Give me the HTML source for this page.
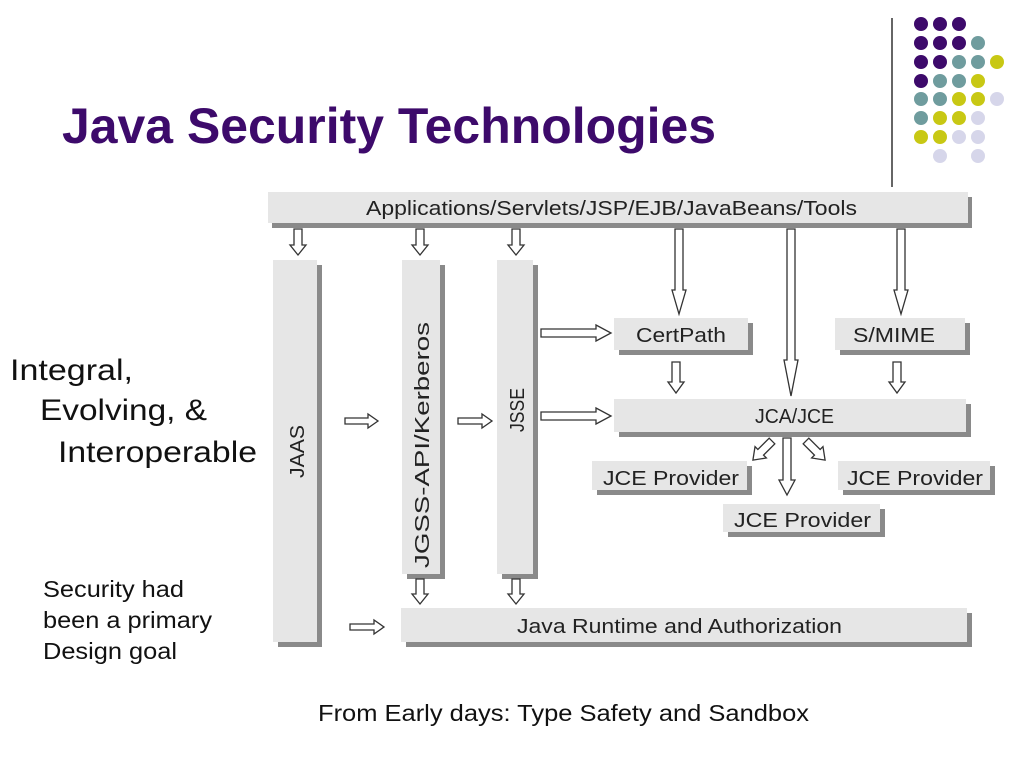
<!DOCTYPE html>
<html><head><meta charset="utf-8"><style>
html,body{margin:0;padding:0;background:#fff;}
svg{display:block}
text{font-family:"Liberation Sans",Arial,sans-serif}
</style></head><body>
<svg width="1024" height="768" viewBox="0 0 1024 768" xmlns="http://www.w3.org/2000/svg">
<g>
<line x1="892" y1="18" x2="892" y2="187" stroke="#333" stroke-width="1.5"/>
<g fill="#3d0a6b">
<circle cx="921" cy="24" r="7"/><circle cx="940" cy="24" r="7"/><circle cx="959" cy="24" r="7"/>
<circle cx="921" cy="43" r="7"/><circle cx="940" cy="43" r="7"/><circle cx="959" cy="43" r="7"/>
<circle cx="921" cy="62" r="7"/><circle cx="940" cy="62" r="7"/>
<circle cx="921" cy="81" r="7"/>
</g>
<g fill="#6f9c9e">
<circle cx="978" cy="43" r="7"/>
<circle cx="959" cy="62" r="7"/><circle cx="978" cy="62" r="7"/>
<circle cx="940" cy="81" r="7"/><circle cx="959" cy="81" r="7"/>
<circle cx="921" cy="99" r="7"/><circle cx="940" cy="99" r="7"/>
<circle cx="921" cy="118" r="7"/>
</g>
<g fill="#c8c814">
<circle cx="997" cy="62" r="7"/>
<circle cx="978" cy="81" r="7"/>
<circle cx="959" cy="99" r="7"/><circle cx="978" cy="99" r="7"/>
<circle cx="940" cy="118" r="7"/><circle cx="959" cy="118" r="7"/>
<circle cx="921" cy="137" r="7"/><circle cx="940" cy="137" r="7"/>
</g>
<g fill="#d6d6ea">
<circle cx="997" cy="99" r="7"/>
<circle cx="978" cy="118" r="7"/>
<circle cx="959" cy="137" r="7"/><circle cx="978" cy="137" r="7"/>
<circle cx="940" cy="156" r="7"/><circle cx="978" cy="156" r="7"/>
</g>
</g>
<text x="62" y="143" font-size="50" font-weight="bold" fill="#3d0a6b" textLength="654" lengthAdjust="spacingAndGlyphs">Java Security Technologies</text>

<g fill="#8a8a8a">
<rect x="272" y="197" width="700" height="31"/>
<rect x="278" y="265" width="44" height="382"/>
<rect x="407" y="265" width="38" height="314"/>
<rect x="502" y="265" width="36" height="314"/>
<rect x="619" y="323" width="134" height="32"/>
<rect x="840" y="323" width="130" height="32"/>
<rect x="619" y="404" width="352" height="33"/>
<rect x="597" y="466" width="155" height="29"/>
<rect x="843" y="466" width="152" height="29"/>
<rect x="728" y="509" width="157" height="28"/>
<rect x="406" y="613" width="566" height="34"/>
</g>
<g fill="#e6e6e6">
<rect x="268" y="192" width="700" height="31"/>
<rect x="273" y="260" width="44" height="382"/>
<rect x="402" y="260" width="38" height="314"/>
<rect x="497" y="260" width="36" height="314"/>
<rect x="614" y="318" width="134" height="32"/>
<rect x="835" y="318" width="130" height="32"/>
<rect x="614" y="399" width="352" height="33"/>
<rect x="592" y="461" width="155" height="29"/>
<rect x="838" y="461" width="152" height="29"/>
<rect x="723" y="504" width="157" height="28"/>
<rect x="401" y="608" width="566" height="34"/>
</g>
<g font-size="20" fill="#222">
<text x="366" y="215" textLength="491" lengthAdjust="spacingAndGlyphs">Applications/Servlets/JSP/EJB/JavaBeans/Tools</text>
<text x="636" y="342" textLength="90" lengthAdjust="spacingAndGlyphs">CertPath</text>
<text x="853" y="342" textLength="82" lengthAdjust="spacingAndGlyphs">S/MIME</text>
<text x="755" y="423" textLength="79" lengthAdjust="spacingAndGlyphs">JCA/JCE</text>
<text x="603" y="485" textLength="136" lengthAdjust="spacingAndGlyphs">JCE Provider</text>
<text x="847" y="485" textLength="136" lengthAdjust="spacingAndGlyphs">JCE Provider</text>
<text x="734" y="527" textLength="137" lengthAdjust="spacingAndGlyphs">JCE Provider</text>
<text x="517" y="633" textLength="325" lengthAdjust="spacingAndGlyphs">Java Runtime and Authorization</text>
<text transform="translate(304,478) rotate(-90)" textLength="53" lengthAdjust="spacingAndGlyphs">JAAS</text>
<text transform="translate(429,568) rotate(-90)" textLength="246" lengthAdjust="spacingAndGlyphs">JGSS-API/Kerberos</text>
<text transform="translate(524,432) rotate(-90)" textLength="44" lengthAdjust="spacingAndGlyphs">JSSE</text>
</g>

<g fill="#fff" stroke="#333" stroke-width="1.3">
<polygon points="294,229 302,229 302,245 306,245 298,255 290,245 294,245"/>
<polygon points="416,229 424,229 424,245 428,245 420,255 412,245 416,245"/>
<polygon points="512,229 520,229 520,245 524,245 516,255 508,245 512,245"/>
<polygon points="675,229 683,229 683,290 686,290 679,314 672,290 675,290"/>
<polygon points="787,229 795,229 795,360 798,360 791,396 784,360 787,360"/>
<polygon points="897,229 905,229 905,290 908,290 901,314 894,290 897,290"/>
<polygon points="541,329 596,329 596,325 611,333 596,341 596,337 541,337"/>
<polygon points="541,412 596,412 596,408 611,416 596,424 596,420 541,420"/>
<polygon points="345,418 368,418 368,414 378,421 368,428 368,424 345,424"/>
<polygon points="458,418 482,418 482,414 492,421 482,428 482,424 458,424"/>
<polygon points="350,624 374,624 374,620 384,627 374,634 374,630 350,630"/>
<polygon points="416,579 424,579 424,594 428,594 420,604 412,594 416,594"/>
<polygon points="512,579 520,579 520,594 524,594 516,604 508,594 512,594"/>
<polygon points="672,362 680,362 680,382 684,382 676,393 668,382 672,382"/>
<polygon points="893,362 901,362 901,382 905,382 897,393 889,382 893,382"/>
<polygon points="783,438 791,438 791,480 795,480 787,495 779,480 783,480"/>
<g transform="translate(772,441) rotate(45)"><polygon points="-4,0 4,0 4,16 8,16 0,27 -8,16 -4,16"/></g>
<g transform="translate(806,441) rotate(-45)"><polygon points="-4,0 4,0 4,16 8,16 0,27 -8,16 -4,16"/></g>
</g>

<g font-size="30" fill="#111">
<text x="10" y="380" textLength="123" lengthAdjust="spacingAndGlyphs">Integral,</text>
<text x="40" y="420" textLength="167" lengthAdjust="spacingAndGlyphs">Evolving, &amp;</text>
<text x="58" y="462" textLength="199" lengthAdjust="spacingAndGlyphs">Interoperable</text>
</g>
<g font-size="23" fill="#111">
<text x="43" y="597" textLength="141" lengthAdjust="spacingAndGlyphs">Security had</text>
<text x="43" y="628" textLength="169" lengthAdjust="spacingAndGlyphs">been a primary</text>
<text x="43" y="659" textLength="134" lengthAdjust="spacingAndGlyphs">Design goal</text>
</g>
<text x="318" y="721" font-size="23" fill="#111" textLength="491" lengthAdjust="spacingAndGlyphs">From Early days: Type Safety and Sandbox</text>
</svg>
</body></html>
